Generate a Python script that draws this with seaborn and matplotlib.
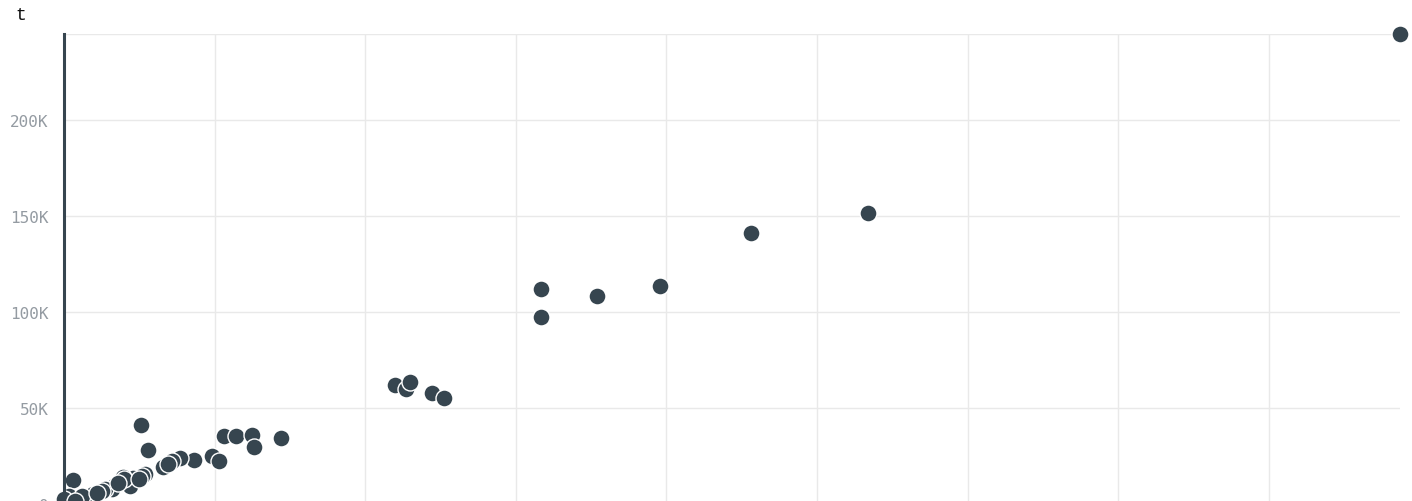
import matplotlib
matplotlib.use("Agg")
import matplotlib.pyplot as plt
import seaborn as sns
import pandas as pd
from matplotlib.ticker import FuncFormatter, MultipleLocator

# values (x in grid units, y in absolute t)
x_vals = [88.7, 53.4, 45.6, 39.6, 35.4, 31.7, 31.7,
          22.0, 22.7, 23.0, 24.4, 25.2,
          5.1, 5.6, 10.6, 11.4, 12.5, 12.6, 14.4, 9.8, 10.3, 8.6, 7.7, 7.2,
          6.7, 6.6, 5.4, 5.2, 4.6, 3.9, 4.4, 3.3, 3.2, 2.7, 1.9, 0.6, 0.3,
          0.0, 1.2, 2.5, 0.7, 4.0, 3.6, 5.0, 6.9, 2.2]
y_vals = [244800, 151600, 141100, 113500, 108300, 112000, 97400,
          62000, 59900, 63500, 57800, 55200,
          41100, 28100, 35400, 35400, 35900, 29700, 34400, 25000, 22400, 22900, 24000, 22400,
          20300, 19300, 15600, 14600, 13500, 14100, 9400, 9400, 7800, 7800, 5200, 12500, 4200,
          2600, 4200, 6800, 1600, 12800, 11000, 13000, 21000, 5500]

df = pd.DataFrame({"x": x_vals, "t": y_vals})

dot_color = "#36454f"
grid_color = "#e9e9e9"
tick_color = "#949ba2"

sns.set_theme(style="white")
plt.rcParams["font.family"] = ["DejaVu Sans Mono", "DejaVu Sans"]

fig = plt.figure(figsize=(14.12, 5.02), dpi=100)
ax = fig.add_axes([64 / 1412, -3 / 502, (1400 - 64) / 1412, (505 - 35) / 502])

sns.scatterplot(data=df, x="x", y="t", ax=ax, color=dot_color, s=150,
                edgecolor="white", linewidth=1, clip_on=False, zorder=3)

ax.set_xlim(0, 88.7)
ax.set_ylim(0, 244800)
ax.xaxis.set_major_locator(MultipleLocator(10))
ax.yaxis.set_major_locator(MultipleLocator(50000))
ax.yaxis.set_major_formatter(FuncFormatter(lambda v, p: "0" if v == 0 else f"{v / 1000:.0f}K"))
ax.set_xticklabels([])
ax.set_xlabel("")
ax.set_ylabel("")

ax.grid(True, color=grid_color, linewidth=1)
ax.set_axisbelow(True)
for side in ["top", "right", "bottom"]:
    ax.spines[side].set_visible(False)
ax.spines["left"].set_color(dot_color)
ax.spines["left"].set_linewidth(2.2)
ax.spines["left"].set_zorder(4)

ax.tick_params(axis="y", length=0, pad=11, labelsize=11.5, labelcolor=tick_color)
ax.tick_params(axis="x", length=0)

# top gridline at the upper edge of the plot
ax.axhline(244800, color=grid_color, linewidth=1, zorder=0)

fig.text(15 / 1412, 1 - 15 / 502, "t", va="center", ha="left",
         family=["Liberation Mono", "DejaVu Sans Mono"], fontsize=13, color="#111111")

fig.savefig("out.png", dpi=100)
